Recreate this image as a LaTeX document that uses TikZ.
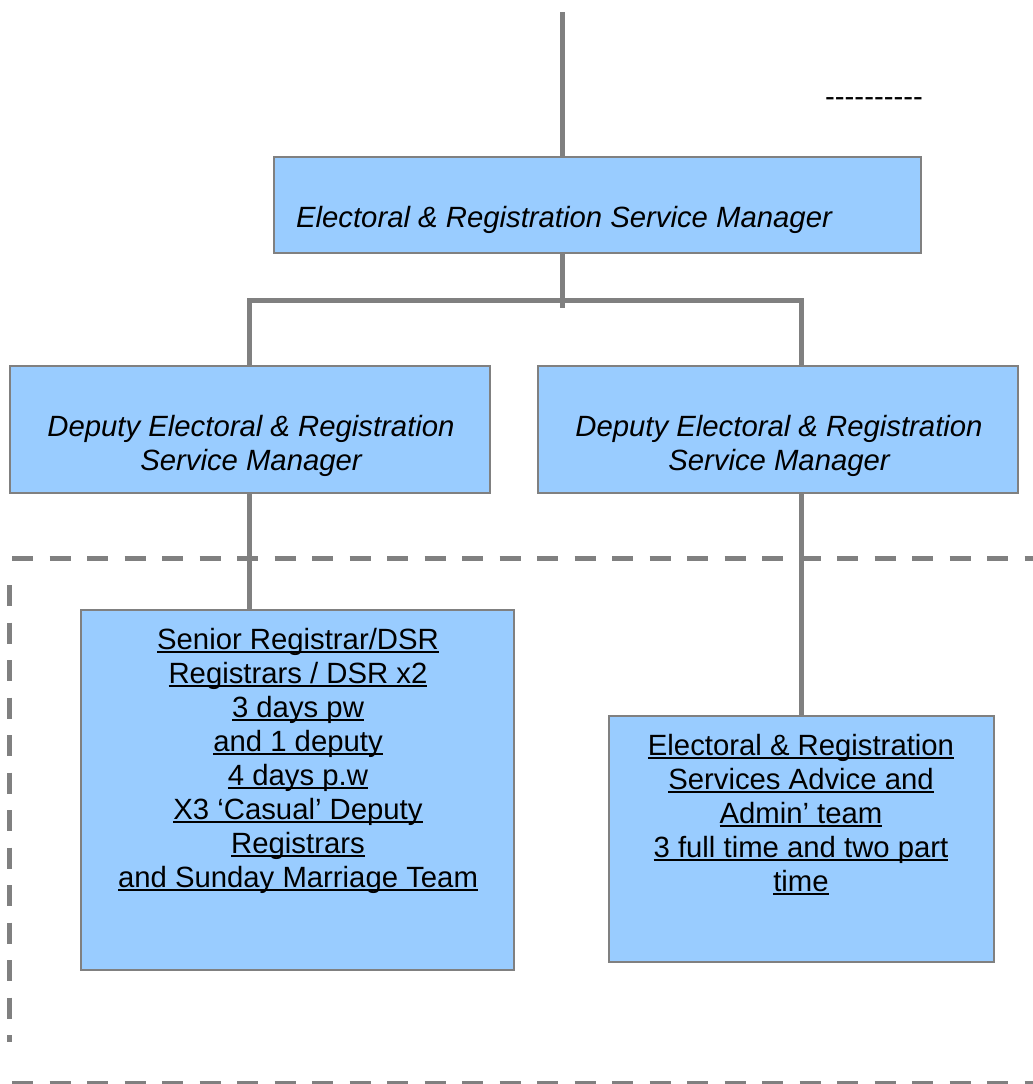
\documentclass[tikz,border=0pt]{standalone}
\usepackage{fontspec}
\setmainfont{Liberation Sans}
\definecolor{boxfill}{HTML}{99CCFF}
\definecolor{linegray}{HTML}{808080}
\newcommand\ulx[1]{\setbox0\hbox{#1}\rlap{\rule[-3.5pt]{\wd0}{2pt}}\box0}
\tikzset{
  box/.style={draw=linegray, line width=2pt, fill=boxfill, inner sep=0pt},
  conn/.style={draw=linegray, line width=5pt},
  dashline/.style={draw=linegray, line width=5pt, dash pattern=on 21pt off 16.5pt},
  lbl/.style={inner sep=0pt, align=center, font=\fontsize{29.3}{34}\selectfont},
}
\begin{document}
\begin{tikzpicture}[x=1pt,y=-1pt]
\clip (0,0) rectangle (1033,1084);
\fill[white] (0,0) rectangle (1033,1084);

% boxes
\node[box, minimum width=647pt, minimum height=96pt] (top) at (597.5,205) {};
\node[box, minimum width=480pt, minimum height=127pt] (ld) at (250,429.5) {};
\node[box, minimum width=480pt, minimum height=127pt] (rd) at (778,429.5) {};
\node[box, minimum width=433pt, minimum height=360pt] (sr) at (297.5,790) {};
\node[box, minimum width=385pt, minimum height=246pt] (adm) at (801.5,839) {};

% labels
\node[lbl, font=\fontsize{29.3}{34}\selectfont\itshape] (toplbl) at (564,220) {Electoral \& Registration Service Manager};
\node[lbl, font=\fontsize{29.3}{34}\selectfont\itshape] (ldlbl) at (251,446) {Deputy Electoral \& Registration\\Service Manager};
\node[lbl, font=\fontsize{29.3}{34}\selectfont\itshape] (rdlbl) at (779,446) {Deputy Electoral \& Registration\\Service Manager};
\node[lbl] (srlbl) at (298,761) {\ulx{Senior Registrar/DSR}\\\ulx{Registrars / DSR x2}\\\ulx{3 days pw}\\\ulx{and 1 deputy}\\\ulx{4 days p.w}\\\ulx{X3 ‘Casual’ Deputy}\\\ulx{Registrars}\\\ulx{and Sunday Marriage Team}};
\node[lbl] (admlbl) at (801,815) {\ulx{Electoral \& Registration}\\\ulx{Services Advice and}\\\ulx{Admin’ team}\\\ulx{3 full time and two part}\\\ulx{time}};
\node[lbl] (dashtxt) at (874,102) {-{}-{}-{}-{}-{}-{}-{}-{}-{}-};

% connectors
\coordinate (topend) at (562,12);
\coordinate (tb) at (562,308);
\coordinate (hl) at (249,300);
\coordinate (hr) at (801,300);
\draw[conn] (topend) -- (topend |- top.north);
\draw[conn] (topend |- top.south) -- (tb);
\draw[conn] (ld.north -| hl) -- (hl) -- (hr) -- (rd.north -| hr);
\draw[conn] (ld.south -| hl) -- (sr.north -| hl);
\draw[conn] (rd.south -| hr) -- (adm.north -| hr);

% dashed enclosure
\coordinate (dtl) at (12,558);
\coordinate (dtr) at (1045,558);
\coordinate (dlt) at (9,585);
\coordinate (dlb) at (9,1042);
\coordinate (dbl) at (12,1083);
\coordinate (dbr) at (1045,1083);
\draw[dashline] (dtl) -- (dtr);
\draw[dashline] (dlt) -- (dlb);
\draw[dashline] (dbl) -- (dbr);
\end{tikzpicture}
\end{document}
